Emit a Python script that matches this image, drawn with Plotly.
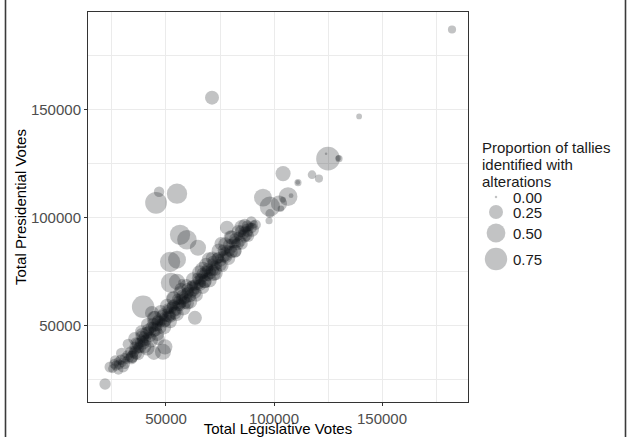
import math
import plotly.graph_objects as go

# ---------------- data ----------------
# Main diagonal band (legislative votes, presidential votes, proportion of altered tallies)
band_legislative = [
    24100, 25300, 26000, 26900, 27600, 28300, 29100, 29800, 30100, 30900,
    31600, 32300, 33000, 33700, 34300, 34900, 35600, 36200, 36900, 37500,
    38000, 38600, 39200, 39800, 40300, 40900, 41400, 42000, 42500, 43100,
    43600, 44100, 44600, 45100, 45600, 46100, 46600, 47100, 47600, 48100,
    48500, 49000, 49500, 50000, 50400, 50900, 51300, 51800, 52200, 52700,
    53100, 53600, 54000, 54500, 54900, 55400, 55800, 56300, 56700, 57200,
    57600, 58100, 58500, 59000, 59400, 59900, 60300, 60800, 61200, 61700,
    62100, 62600, 63000, 63500, 63900, 64400, 64800, 65300, 65700, 66200,
    66700, 67200, 67700, 68200, 68700, 69200, 69700, 70200, 70800, 71300,
    71900, 72400, 73000, 73600, 74200, 74800, 75400, 76000, 76700, 77300,
    78000, 78700, 79400, 80100, 80900, 81700, 82500, 83400, 84300, 85200,
    86100, 87000, 87900, 88800, 89700, 90600, 91500,
]
band_presidential = [
    31000, 30200, 32400, 31600, 33500, 32200, 34300, 33000, 31200, 35200,
    34100, 36400, 35200, 37900, 35700, 38800, 40200, 39100, 41800, 40600,
    42300, 44000, 42800, 45300, 43900, 46800, 45200, 47600, 45800, 49200,
    47600, 49500, 47400, 51600, 49800, 51900, 49200, 52300, 51300, 54800,
    51900, 54000, 51800, 56200, 54300, 57700, 54400, 57200, 54700, 58700,
    57300, 60200, 56900, 59600, 57100, 61700, 59600, 63200, 60000, 62000,
    60200, 63900, 62500, 65700, 62400, 65200, 62700, 66900, 65300, 68700,
    65600, 68600, 65900, 68900, 66400, 71000, 69000, 72400, 69300, 71600,
    69700, 73800, 72400, 75400, 72400, 75300, 72700, 76800, 75400, 79100,
    75700, 78500, 77600, 81100, 77800, 81000, 79800, 83900, 82100, 84600,
    82200, 85700, 84500, 88100, 85700, 88800, 88100, 91400, 89200, 92700,
    92500, 94900, 93700, 95800, 95200, 97000, 96800,
]
band_proportion = [
    0.14, 0.08, 0.10, 0.11, 0.06, 0.12, 0.12, 0.07, 0.16, 0.10,
    0.05, 0.13, 0.09, 0.15, 0.18, 0.06, 0.14, 0.10, 0.16, 0.05,
    0.12, 0.08, 0.15, 0.11, 0.07, 0.18, 0.09, 0.13, 0.05, 0.16,
    0.08, 0.12, 0.15, 0.06, 0.11, 0.17, 0.05, 0.12, 0.08, 0.14,
    0.06, 0.10, 0.16, 0.05, 0.12, 0.08, 0.18, 0.06, 0.11, 0.13,
    0.05, 0.09, 0.15, 0.06, 0.12, 0.08, 0.17, 0.05, 0.10, 0.13,
    0.06, 0.09, 0.14, 0.05, 0.08, 0.17, 0.06, 0.12, 0.05, 0.09,
    0.13, 0.06, 0.10, 0.16, 0.05, 0.08, 0.12, 0.06, 0.09, 0.15,
    0.05, 0.10, 0.08, 0.13, 0.06, 0.16, 0.09, 0.05, 0.11, 0.08,
    0.14, 0.06, 0.10, 0.16, 0.05, 0.09, 0.12, 0.06, 0.17, 0.08,
    0.11, 0.05, 0.13, 0.09, 0.06, 0.15, 0.10, 0.08, 0.16, 0.06,
    0.12, 0.09, 0.14, 0.08, 0.11, 0.06, 0.12,
]

# Second layer of the band, on both sides of the centre line
band2_legislative = [
    26500, 28000, 29500, 31000, 32500, 34000, 35500, 37000, 38500, 40000,
    41500, 43000, 44500, 46000, 47500, 49000, 50500, 52000, 53500, 55000,
    56500, 58000, 59500, 61000, 62500, 64000, 65500, 67000, 68500, 70000,
    71500, 73000, 74500, 76000, 77500, 79000, 80500, 82000, 83500, 85000,
    86500, 88000, 89500,
]
band2_presidential = [
    34000, 29700, 37300, 32500, 41500, 34900, 44200, 37200, 47400, 40500,
    50600, 43300, 53500, 46100, 56700, 49400, 59300, 52000, 62600, 55500,
    65400, 58200, 68700, 61400, 71500, 64300, 74600, 67800, 78200, 71300,
    81300, 74300, 84700, 77800, 87700, 81200, 90800, 84600, 93600, 88000,
    96400, 91600, 98300,
]
band2_proportion = [
    0.12, 0.10, 0.15, 0.12, 0.14, 0.16, 0.20, 0.22, 0.18, 0.25,
    0.22, 0.26, 0.28, 0.22, 0.20, 0.28, 0.25, 0.22, 0.30, 0.25,
    0.22, 0.28, 0.20, 0.30, 0.25, 0.22, 0.28, 0.22, 0.25, 0.30,
    0.22, 0.25, 0.28, 0.20, 0.25, 0.22, 0.26, 0.20, 0.22, 0.18,
    0.22, 0.18, 0.12,
]

# Third layer in the thick middle part of the band
band3_legislative = [
    40700, 41800, 42900, 44000, 45200, 46300, 47400, 48600, 49700, 50800,
    52000, 53100, 54200, 55300, 56500, 57600, 58800, 59900, 61100, 62300,
    63400, 64600, 65800, 66900, 68100, 69300, 70500, 71700, 72900, 74100,
    75300, 76500, 77800, 79100, 80400, 81800, 83200, 84700, 86200, 87700,
    36000, 37300, 38600, 39600, 35000,
]
band3_presidential = [
    43400, 48300, 44900, 51100, 48200, 52700, 49200, 55500, 52600, 58000,
    54200, 59300, 55900, 62300, 59600, 64200, 60700, 67200, 63700, 68600,
    65500, 72000, 69000, 74200, 70400, 76500, 74400, 79900, 76100, 81400,
    78200, 85000, 82100, 87500, 84100, 90200, 87800, 93800, 91400, 96200,
    42300, 39800, 45400, 41700, 37600,
]
band3_proportion = [
    0.15, 0.18, 0.12, 0.16, 0.20, 0.14, 0.18, 0.15, 0.20, 0.13,
    0.18, 0.16, 0.20, 0.14, 0.18, 0.15, 0.20, 0.16, 0.18, 0.14,
    0.20, 0.15, 0.18, 0.16, 0.20, 0.15, 0.18, 0.14, 0.20, 0.16,
    0.18, 0.15, 0.20, 0.16, 0.18, 0.14, 0.18, 0.16, 0.20, 0.15,
    0.12, 0.14, 0.12, 0.15, 0.12,
]

# Small-proportion points in the core of the band
core_legislative = [
    27000, 28700, 31200, 33600, 36500, 38300, 39900, 41200, 42800, 44300,
    45800, 47300, 48800, 50200, 51600, 53000, 54300, 55600, 57000, 58300,
    59700, 61000, 62400, 63800, 65100, 66500, 67900, 69400, 70900, 72600,
    74500, 76300, 78300, 80500, 82900, 85600, 88300, 46900, 49600, 52400,
    56100, 60500, 64600,
]
core_presidential = [
    31700, 33000, 35500, 37600, 40700, 42600, 44700, 45400, 47500, 48600,
    50500, 51700, 53100, 55000, 56000, 57800, 58500, 60400, 61300, 63100,
    64000, 65700, 66800, 68700, 69600, 71900, 72300, 74900, 76100, 78000,
    80000, 81900, 84600, 86300, 89900, 92400, 95100, 51800, 54200, 56900,
    60600, 64700, 69400,
]
core_proportion = [
    0.00, 0.01, 0.00, 0.01, 0.00, 0.01, 0.00, 0.02, 0.00, 0.01,
    0.00, 0.02, 0.00, 0.01, 0.00, 0.00, 0.01, 0.00, 0.02, 0.00,
    0.01, 0.00, 0.00, 0.01, 0.00, 0.02, 0.00, 0.01, 0.00, 0.00,
    0.01, 0.00, 0.02, 0.00, 0.01, 0.00, 0.02, 0.00, 0.00, 0.01,
    0.00, 0.00, 0.01,
]

# Medium-size points along the edges of the band
edge_legislative = [
    41200, 44400, 48600, 49500, 38000, 34300, 43500, 44900, 63400, 67100,
    64800, 78200, 72000, 60000, 75500, 82000, 86600, 89800, 85000, 80000,
    70000, 68000, 57000, 53500, 39000, 36000, 46500,
]
edge_presidential = [
    39800, 37500, 38000, 40300, 40300, 35600, 56000, 53700, 53700, 75900,
    86100, 95400, 74000, 60500, 88000, 84500, 92500, 94400, 95500, 91000,
    80500, 70500, 67000, 62500, 45800, 37500, 44000,
]
edge_proportion = [
    0.30, 0.25, 0.35, 0.30, 0.20, 0.18, 0.25, 0.25, 0.25, 0.35,
    0.35, 0.25, 0.25, 0.20, 0.22, 0.20, 0.30, 0.25, 0.28, 0.25,
    0.30, 0.22, 0.20, 0.25, 0.25, 0.20, 0.20,
]

# Outlying municipalities
outlier_legislative = [
    21800, 56500, 59700, 55100, 51900, 52300, 55100, 57400, 39400, 45400,
    46800, 55100, 182400, 71300, 139400, 125000, 124100, 130100, 129800, 117600,
    120800, 104200, 111100, 111000, 94900, 98100, 104200, 106500, 107900, 102300,
    103200, 98100, 97700,
]
outlier_presidential = [
    23100, 92100, 89800, 80600, 79600, 69900, 70400, 69900, 58800, 106900,
    112000, 111100, 187000, 155500, 146800, 127300, 129600, 127300, 127600, 119900,
    118100, 120400, 116200, 116300, 109300, 105100, 108300, 109700, 110200, 106500,
    104200, 101900, 98600,
]
outlier_proportion = [
    0.15, 0.60, 0.55, 0.45, 0.60, 0.60, 0.35, 0.05, 0.75, 0.70,
    0.12, 0.60, 0.06, 0.25, 0.02, 0.85, 0.00, 0.04, 0.02, 0.07,
    0.06, 0.30, 0.04, 0.01, 0.45, 0.60, 0.02, 0.50, 0.01, 0.35,
    0.03, 0.08, 0.04,
]

legend_values = [0.00, 0.25, 0.50, 0.75]
legend_labels = ["0.00", "0.25", "0.50", "0.75"]
legend_title_lines = ["Proportion of tallies", "identified with", "alterations"]

x_ticks = [50000, 100000, 150000]
x_minor = [25000, 75000, 125000, 175000]
y_ticks = [50000, 100000, 150000]
y_minor = [25000, 75000, 125000, 175000]

# ---------------- style ----------------
W, H = 627, 437
ML, MR, MT, MB = 88, 0, 12, 35
PW, PH = W - ML - MR, H - MT - MB
PANEL_RIGHT_PX = 468
POINT_COLOR = "rgba(20,22,28,0.37)"
FONT = "Liberation Sans, Arial, sans-serif"
GRID = "#EBEBEB"


def diam(p):
    return 2.5 + 23.0 * math.sqrt(p)


legislative = (band_legislative + band2_legislative + band3_legislative
               + core_legislative + edge_legislative + outlier_legislative)
presidential = (band_presidential + band2_presidential + band3_presidential
                + core_presidential + edge_presidential + outlier_presidential)
proportion = (band_proportion + band2_proportion + band3_proportion
              + core_proportion + edge_proportion + outlier_proportion)

fig = go.Figure()
fig.add_trace(go.Scatter(
    x=legislative, y=presidential, mode="markers",
    marker=dict(size=[diam(p) for p in proportion], sizemode="diameter",
                color=POINT_COLOR, line=dict(width=0)),
    showlegend=False, hoverinfo="skip",
))

# legend keys drawn on a hidden helper axis (pixel-like coordinates)
legend_y_px = [197, 212, 233, 259]
fig.add_trace(go.Scatter(
    x=[496 - 480] * len(legend_values), y=[v - MT for v in legend_y_px],
    mode="markers", xaxis="x2", yaxis="y2",
    marker=dict(size=[diam(v) for v in legend_values], sizemode="diameter",
                color=POINT_COLOR, line=dict(width=0)),
    showlegend=False, hoverinfo="skip",
))

annotations = []
for lab, ypx in zip(legend_labels, legend_y_px):
    annotations.append(dict(x=512 - 480, y=ypx - MT, xref="x2", yref="y2", text=lab,
                            showarrow=False, xanchor="left", yanchor="middle", borderpad=0,
                            font=dict(family=FONT, size=15, color="#1a1a1a")))
for line, ypx in zip(legend_title_lines, [147, 164, 181]):
    annotations.append(dict(x=481 - 480, y=ypx - MT, xref="x2", yref="y2", text=line,
                            showarrow=False, xanchor="left", yanchor="middle", borderpad=0,
                            font=dict(family=FONT, size=15, color="#1a1a1a")))

shapes = []
for xpx in [5.5, 625.5]:
    xp = (xpx - ML) / PW
    shapes.append(dict(type="line", xref="paper", yref="paper",
                       x0=xp, x1=xp, y0=-MB / PH, y1=1 + MT / PH,
                       line=dict(color="#3a3a3a", width=1.6)))

axis_common = dict(
    showline=True, linecolor="#333333", linewidth=1, mirror=True,
    ticks="outside", ticklen=3, tickcolor="#333333", tickwidth=1,
    tickfont=dict(family=FONT, size=15, color="#4D4D4D"),
    showgrid=True, gridcolor=GRID, gridwidth=1, zeroline=False,
    tickformat="d", automargin=False,
)

fig.update_layout(
    width=W, height=H, autosize=False,
    margin=dict(l=ML, r=MR, t=MT, b=MB, pad=0),
    paper_bgcolor="white", plot_bgcolor="white",
    showlegend=False,
    xaxis=dict(axis_common, domain=[0, (PANEL_RIGHT_PX - ML) / PW],
               range=[13900, 189800], tickvals=x_ticks,
               minor=dict(tickvals=x_minor, showgrid=True, gridcolor=GRID, gridwidth=0.6, ticks=""),
               title=dict(text="Total Legislative Votes", standoff=0,
                          font=dict(family=FONT, size=15, color="black"))),
    yaxis=dict(axis_common, domain=[0, 1],
               range=[14800, 195100], tickvals=y_ticks,
               minor=dict(tickvals=y_minor, showgrid=True, gridcolor=GRID, gridwidth=0.6, ticks=""),
               title=dict(text="Total Presidential Votes", standoff=0,
                          font=dict(family=FONT, size=15, color="black"))),
    xaxis2=dict(domain=[(480 - ML) / PW, 1], range=[0, W - 480], visible=False,
                anchor="y2", fixedrange=True),
    yaxis2=dict(domain=[0, 1], range=[PH, 0], visible=False, anchor="x2", fixedrange=True),
    annotations=annotations,
    shapes=shapes,
    font=dict(family=FONT),
)

fig.write_html(
    "out.html",
    config={"displayModeBar": False},
    post_script="document.body.style.margin='0';document.body.style.padding='0';",
)
